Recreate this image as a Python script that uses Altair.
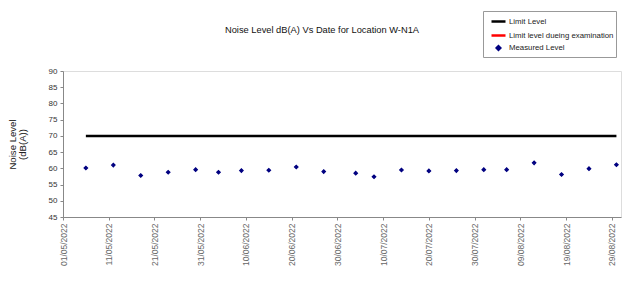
import altair as alt
import pandas as pd

# ---- data ----
dates = ["2022-05-06", "2022-05-12", "2022-05-18", "2022-05-24", "2022-05-30",
         "2022-06-04", "2022-06-09", "2022-06-15", "2022-06-21", "2022-06-27",
         "2022-07-04", "2022-07-08", "2022-07-14", "2022-07-20", "2022-07-26",
         "2022-08-01", "2022-08-06", "2022-08-12", "2022-08-18", "2022-08-24",
         "2022-08-30"]
levels = [60.1, 61.0, 57.8, 58.8, 59.6, 58.8, 59.3, 59.4, 60.4, 59.0,
          58.5, 57.4, 59.5, 59.2, 59.3, 59.6, 59.6, 61.7, 58.1, 59.9, 61.1]
limit_dates = ["2022-05-06", "2022-08-30"]
limit_values = [70, 70]
series = ["Limit Level", "Limit level dueing examination", "Measured Level"]
series_colors = ["#000000", "#ff0000", "#000080"]
tick_dates = [(5, 1), (5, 11), (5, 21), (5, 31), (6, 10), (6, 20), (6, 30),
              (7, 10), (7, 20), (7, 30), (8, 9), (8, 19), (8, 29)]
y_ticks = [45, 50, 55, 60, 65, 70, 75, 80, 85, 90]

FONT = "Liberation Sans"

measured = pd.DataFrame({"date": dates, "level": levels, "series": series[2]})
limit = pd.DataFrame({"date": limit_dates, "level": limit_values, "series": series[0]})

x_enc = alt.X(
    "date:T",
    scale=alt.Scale(type="utc",
                    domain=[alt.DateTime(year=2022, month=5, date=1, utc=True),
                            alt.DateTime(year=2022, month=8, date=31, utc=True)]),
    axis=alt.Axis(
        values=[alt.DateTime(year=2022, month=m, date=d, utc=True) for m, d in tick_dates],
        format="%d/%m/%Y", labelAngle=270, labelFontSize=8.5, labelColor="#666666",
        labelFont=FONT, tickSize=3, tickColor="#888888", domainColor="#888888",
        grid=False, title=None, labelPadding=3),
)
y_enc = alt.Y(
    "level:Q",
    scale=alt.Scale(domain=[45, 90], nice=False, zero=False),
    axis=alt.Axis(values=y_ticks, labelFontSize=8, labelColor="#333333", labelFont=FONT,
                  tickSize=3, tickColor="#888888", domainColor="#888888", grid=False,
                  title=["Noise Level", "(dB(A))"], titleFont=FONT, titleFontSize=9.6,
                  titleFontWeight="normal", titleColor="#222222", titlePadding=21,
                  titleLineHeight=10, labelPadding=3),
)

legend = alt.Legend(
    title=None, orient="none", legendX=420, legendY=-60,
    strokeColor="#999999", fillColor="white", padding=2,
    labelFont=FONT, labelFontSize=7.8, labelColor="#222222", rowPadding=0,
    symbolStrokeWidth=2.5, labelOffset=2, symbolOffset=5,
)
color_scale = alt.Scale(domain=series, range=series_colors)
color_enc = alt.Color("series:N", scale=color_scale, legend=legend)

line = alt.Chart(limit).mark_line(strokeWidth=2.5).encode(
    x=x_enc, y=y_enc, color=color_enc)

points = alt.Chart(measured).mark_point(filled=False, opacity=1, strokeWidth=1.2).encode(
    x=x_enc, y=y_enc, color=color_enc,
    fill=alt.Fill("series:N", scale=color_scale, legend=legend),
    shape=alt.Shape("series:N", scale=alt.Scale(domain=series,
                                                range=["stroke", "stroke", "diamond"]),
                    legend=legend),
    size=alt.Size("series:N", scale=alt.Scale(type="ordinal", domain=series,
                                              range=[196, 196, 12]),
                  legend=legend),
)

chart = alt.layer(line, points).properties(
    width=558, height=146,
    autosize=alt.AutoSizeParams(type="none"),
    padding={"left": 63, "top": 71, "right": 23, "bottom": 67},
    title=alt.Title("Noise Level dB(A) Vs Date for Location W-N1A", font=FONT,
                    fontSize=9.3, fontWeight="normal", color="#111111",
                    anchor="middle", dx=-20, offset=-25),
).configure_view(stroke="#aaaaaa", strokeWidth=1).configure(background="white")

chart.save("out.html", embed_options={"renderer": "svg", "actions": False})
